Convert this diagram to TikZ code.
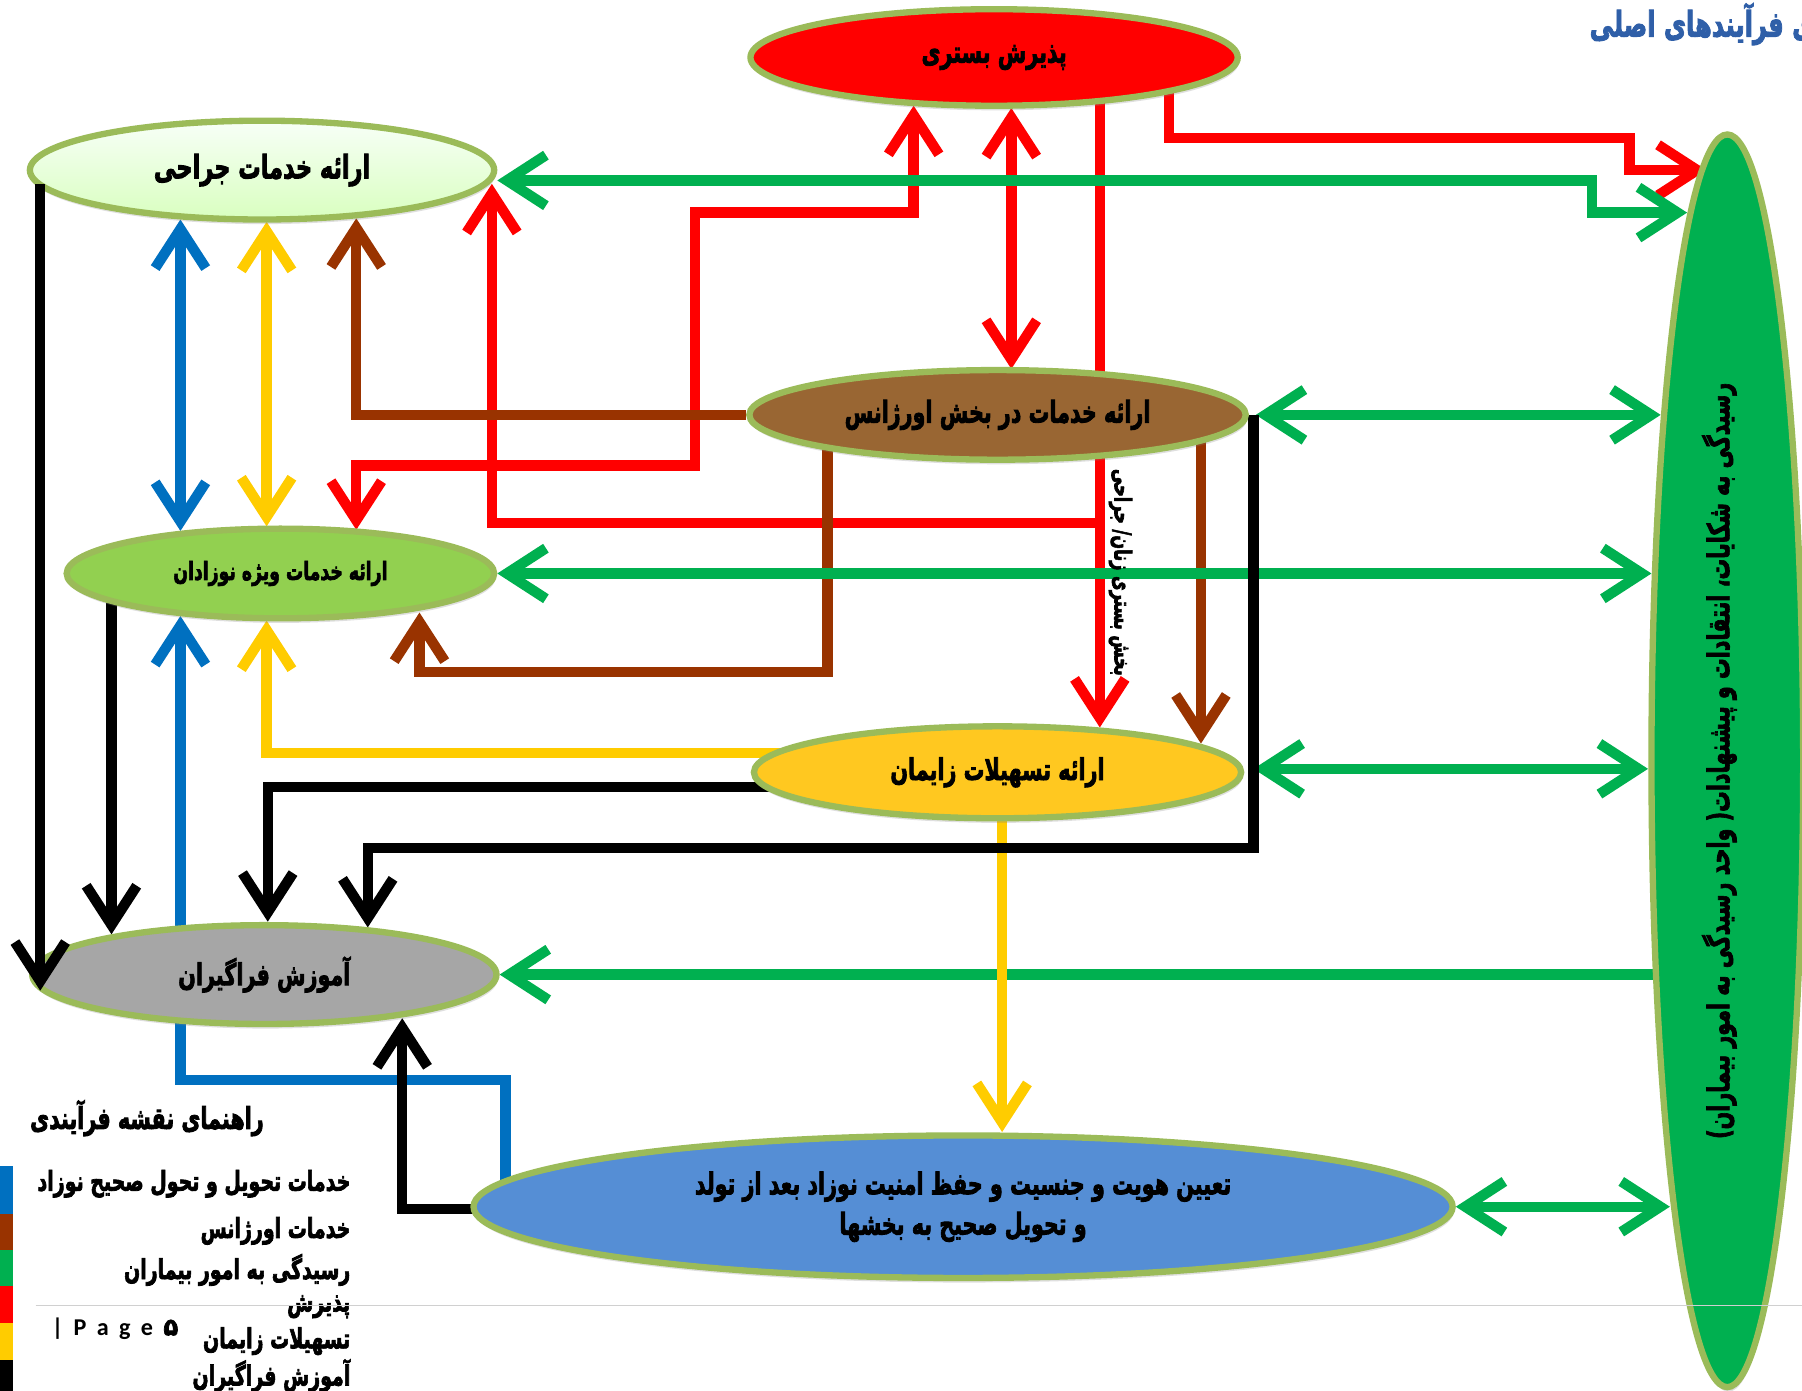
\documentclass[tikz,border=0pt]{standalone}
\usepackage{fontspec}
\newfontfamily\fafont[Script=Arabic, FakeBold=3]{DejaVu Sans}
\newfontfamily\latfont{Carlito}
\TeXXeTstate=1
\usetikzlibrary{arrows.meta,shapes.geometric,shadows,calc}
\pgfdeclarelayer{bg}
\pgfdeclarelayer{lines}
\pgfsetlayers{bg,lines,main}

\definecolor{rim}{HTML}{9BBB59}
\definecolor{cRed}{HTML}{FF0000}
\definecolor{cBrown}{HTML}{993300}
\definecolor{cGreen}{HTML}{00B050}
\definecolor{cBlue}{HTML}{0070C0}
\definecolor{cYellow}{HTML}{FFCC00}
\definecolor{fillC}{HTML}{996633}
\definecolor{fillD}{HTML}{92D050}
\definecolor{fillE}{HTML}{FFC820}
\definecolor{fillF}{HTML}{A6A6A6}
\definecolor{fillG}{HTML}{558ED5}
\definecolor{titleblue}{HTML}{2F5FA8}
\definecolor{rulegray}{HTML}{D0D0D0}

% Persian text helpers: heavy face, tall and condensed look
\newcommand{\fs}[2]{\fafont\bfseries\fontsize{#1}{#2}\selectfont}
\newcommand{\rl}[1]{\scalebox{1}[1.45]{\beginR #1\endR}}
\newcommand{\fixedlines}{\lineskiplimit=-1000pt\relax}

\tikzset{
  ell/.style={ellipse, draw=rim, line width=5.5pt, inner sep=0pt,
    drop shadow={shadow xshift=1pt, shadow yshift=-4pt, opacity=0.25}},
  con/.style={line width=9pt},
  >={Straight Barb[length=34pt,width=44pt]},
}

\begin{document}
\begin{tikzpicture}[x=1pt,y=-1pt]
\useasboundingbox (0,0) rectangle (1568,1210);
\begin{pgfonlayer}{bg}
  \fill[white] (0,0) rectangle (1568,1210);
\end{pgfonlayer}
\clip (0,0) rectangle (1568,1210);

% ---------- process ellipses ----------
\node[ell, fill=cRed, minimum width=424pt, minimum height=84pt] (a) at (865,50)
  {\fs{18}{22}\rl{پذیرش بستری}};
\node[ell, top color=green!3!white, bottom color=green!60!yellow!25!white,
  minimum width=404pt, minimum height=86pt] (b) at (228,148)
  {\fs{19.5}{24}\rl{ارائه خدمات جراحی}};
\node[ell, fill=fillC, minimum width=432pt, minimum height=78pt] (c) at (868,361)
  {\fs{18}{22}\rl{ارائه خدمات در بخش اورژانس}};
\node[ell, fill=fillD, minimum width=372pt, minimum height=78pt] (d) at (244,499)
  {\fs{15}{19}\rl{ارائه خدمات ویژه نوزادان}};
\node[ell, fill=fillE, minimum width=424pt, minimum height=80pt] (e) at (868,672)
  {\fs{18}{22}\rl{ارائه تسهیلات زایمان}};
\node[ell, fill=fillF, minimum width=404pt, minimum height=86pt] (f) at (230,848)
  {\fs{18}{22}\rl{آموزش فراگیران}};
\node[ell, fill=fillG, minimum width=852pt, minimum height=124pt, align=center,
  font={\fs{18}{35}\fixedlines}] (g) at (838,1050)
  {\rl{تعیین هویت و جنسیت و حفظ امنیت نوزاد بعد از تولد}\\\rl{و تحویل صحیح به بخشها}};
\node[ell, fill=cGreen, minimum width=132pt, minimum height=1090pt] (h) at (1503,662) {};
\node[rotate=90, inner sep=0pt] (htext) at (1496,662)
  {\fs{18}{22}\rl{رسیدگی به شکایات، انتقادات و پیشنهادات( واحد رسیدگی به امور بیماران)}};

% label along the red connector
\node[rotate=-90, inner sep=0pt] (ward) at (975,498)
  {\fs{14}{17}\rl{بخش بستری زنان/ جراحی}};

% ---------- connectors ----------
\begin{pgfonlayer}{lines}
% admission (red)
\draw[con, cRed, ->] ($(a)+(92,0)$) -- ($(e)+(89,-39)$);
\draw[con, cRed, ->] ($(a)+(92,405)$) -| ($(b)+(200,12)$);
\draw[con, cRed, <->] ($(a)+(-70,42)$) -- (795,185) -- (605,185) -- (605,405)
  -- (310,405) -- ($(d)+(66,-38)$);
\draw[con, cRed, <->] ($(a)+(15,44)$) -- ($(c)+(12,-40)$);
\draw[con, cRed, ->] ($(a)+(152,0)$) |- (1418,120) |- ($(h)+(-18,-514)$);
% emergency (brown)
\draw[con, cBrown, ->] (c.west) -| ($(b)+(82,42)$);
\draw[con, cBrown, ->] ($(c)+(-148,0)$) |- (365,585) -- ($(d)+(121,34)$);
\draw[con, cBrown, ->] ($(c)+(177,0)$) -- ($(e)+(177,-25)$);
% patient affairs (green)
\draw[con, cGreen, <->] ($(b.east)+(0,9)$) -- (1385,157) |- ($(h)+(-35,-477)$);
\draw[con, cGreen, <->] ($(c.east)+(6,0)$) -- ($(h)+(-58,-301)$);
\draw[con, cGreen, <->] (d.east) -- ($(h)+(-66,-163)$);
\draw[con, cGreen, <->] ($(e.east)+(8,-3)$) -- ($(h)+(-69,7)$);
\draw[con, cGreen, ->] ($(h)+(-50,186)$) -- (f.east);
\draw[con, cGreen, <->] (g.east) -- ($(h)+(-50,388)$);
% delivery facilities (yellow)
\draw[con, cYellow, <->] ($(b)+(4,45)$) -- ($(d)+(-12,-41)$);
\draw[con, cYellow, ->] ($(e)+(-160,-17)$) -| ($(d)+(-12,41)$);
\draw[con, cYellow, ->] ($(e)+(4,0)$) -- ($(g)+(34,-65)$);
% newborn handover (blue)
\draw[con, cBlue, <->] ($(b)+(-71,43)$) -- ($(d)+(-87,-37)$);
\draw[con, cBlue, ->] ($(g)+(-398,0)$) |- (157,940) -- ($(d)+(-87,37)$);
% learners (black)
\draw[con, black, ->] ($(d)+(-147,0)$) -- ($(f)+(-133,-35)$);
\draw[con, black, ->] ($(e)+(-160,13)$) -| ($(f)+(3,-46)$);
\draw[con, black, ->] ($(c.east)+(4,0)$) |- (320,738) -- ($(f)+(90,-41)$);
\draw[con, black, ->] ($(g)+(-410,2)$) -| ($(f)+(120,38)$);
\end{pgfonlayer}
% this one ends over the rim of the learners' ellipse
\draw[con, black, ->] ($(b)+(-193,12)$) -- ($(f)+(-195,14)$);

% ---------- heading (top right) ----------
\node[anchor=west, inner sep=0pt, text=titleblue] (title) at (1383,21)
  {\fs{21}{26}\rl{ی فرآیندهای اصلی}};

% ---------- legend ----------
\node[anchor=west, inner sep=0pt] (leghead) at (26,973)
  {\fs{18}{22}\rl{راهنمای نقشه فرآیندی}};
\fill[cBlue]   (0,1015) rectangle (11,1056);
\fill[cBrown]  (0,1056) rectangle (11,1088);
\fill[cGreen]  (0,1088) rectangle (11,1119);
\fill[cRed]    (0,1119) rectangle (11,1151);
\fill[cYellow] (0,1151) rectangle (11,1183);
\fill[black]   (0,1183) rectangle (11,1210);
\node[anchor=east, inner sep=0pt] (leg1) at (305,1030) {\fs{16.5}{20}\rl{خدمات تحویل و تحول صحیح نوزاد}};
\node[anchor=east, inner sep=0pt] (leg2) at (305,1071) {\fs{16.5}{20}\rl{خدمات اورژانس}};
\node[anchor=east, inner sep=0pt] (leg3) at (305,1105) {\fs{16.5}{20}\rl{رسیدگی به امور بیماران}};
\node[anchor=east, inner sep=0pt] (leg4) at (305,1137) {\fs{16.5}{20}\rl{پذیرش}};
\node[anchor=east, inner sep=0pt] (leg5) at (305,1167) {\fs{16.5}{20}\rl{تسهیلات زایمان}};
\node[anchor=east, inner sep=0pt] (leg6) at (305,1197) {\fs{16.5}{20}\rl{آموزش فراگیران}};

% ---------- page footer ----------
\draw[rulegray, line width=1.5pt] (31,1136) -- (1568,1136);
\node[anchor=west, inner sep=0pt] (page) at (45,1156)
  {\latfont\bfseries\fontsize{21}{26}\selectfont |\hspace{9pt}P\hspace{9pt}a\hspace{9pt}g\hspace{9pt}e\hspace{9pt}{\fafont ۵}};
\end{tikzpicture}
\end{document}
